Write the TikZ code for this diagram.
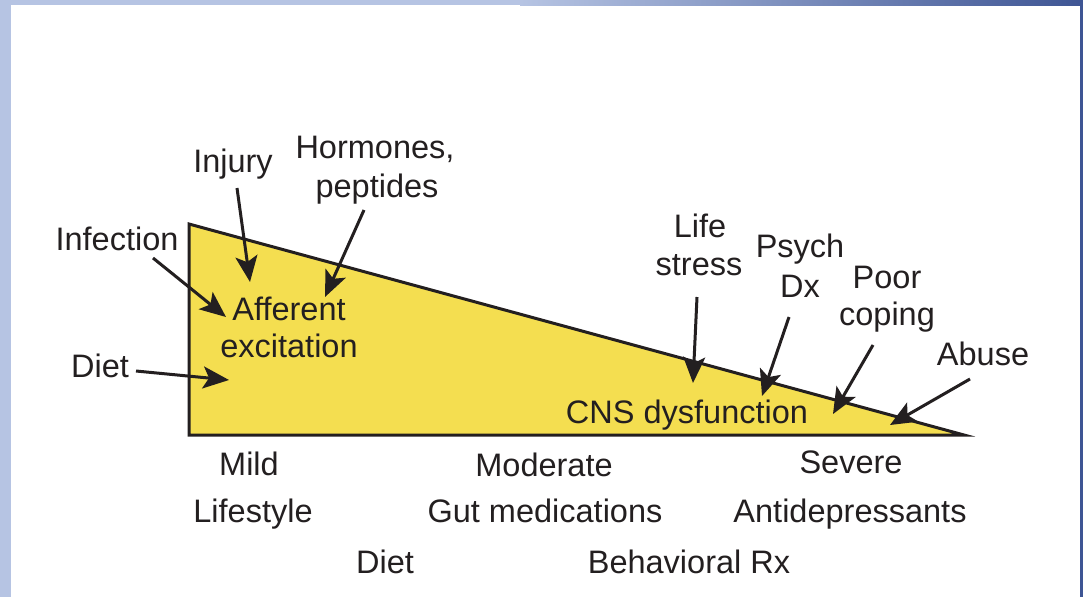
\documentclass[tikz,border=0pt]{standalone}
\usepackage{fontspec}
\setmainfont{Liberation Sans}
\usetikzlibrary{arrows.meta}
\definecolor{lightblue}{RGB}{182,196,227}
\definecolor{darkblue}{RGB}{62,85,148}
\definecolor{tri}{RGB}{244,222,80}
\definecolor{ink}{RGB}{35,31,32}
\tikzset{
  lbl/.style={inner sep=0pt, anchor=base, text=ink, align=center, font=\fontsize{32.5}{38}\selectfont},
  arr/.style={draw=ink, line width=3pt, -{Stealth[length=26pt,width=22pt,inset=6pt]}},
}
\begin{document}
\begin{tikzpicture}[x=1pt,y=-1pt]
\useasboundingbox (0,0) rectangle (1083,597);
% frame
\fill[lightblue] (0,0) rectangle (11,597);
\fill[lightblue] (0,0) rectangle (521,5);
\shade[left color=lightblue, right color=darkblue] (520,0) rectangle (1083,5);
\fill[darkblue] (1080,0) rectangle (1083,597);
% triangle
\coordinate (tl) at (189,224);
\coordinate (bl) at (189,435);
\coordinate (br) at (964,435);
\filldraw[fill=tri, draw=ink, line width=3pt, line join=miter] (tl) -- (bl) -- (br) -- cycle;
% inner labels
\node[lbl] (aff) at (289,320) {Afferent};
\node[lbl] (exc) at (289,357) {excitation};
\node[lbl] (cns) at (687,423) {CNS dysfunction};
% outer labels
\node[lbl] (injury) at (233,172) {Injury};
\node[lbl] (horm) at (375,158) {Hormones,};
\node[lbl] (pept) at (377,197) {peptides};
\node[lbl] (infect) at (117,250) {Infection};
\node[lbl] (diet) at (100,377) {Diet};
\node[lbl] (life) at (700,237) {Life};
\node[lbl] (stress) at (699,275) {stress};
\node[lbl] (psych) at (800,257) {Psych};
\node[lbl] (dx) at (800,297) {Dx};
\node[lbl] (poor) at (887,288) {Poor};
\node[lbl] (coping) at (887,325) {coping};
\node[lbl] (abuse) at (983,365) {Abuse};
% bottom labels
\node[lbl] (mild) at (249,475) {Mild};
\node[lbl] (lifestyle) at (253,522) {Lifestyle};
\node[lbl] (diet2) at (385,573) {Diet};
\node[lbl] (moderate) at (544,476) {Moderate};
\node[lbl] (gut) at (545,522) {Gut medications};
\node[lbl] (behav) at (689,573) {Behavioral Rx};
\node[lbl] (severe) at (851,473) {Severe};
\node[lbl] (anti) at (850,522) {Antidepressants};
% arrow ends
\coordinate (s1) at (237,188); \coordinate (t1) at (250,282);
\coordinate (s2) at (364,210); \coordinate (t2) at (325,297);
\coordinate (s3) at (153,258); \coordinate (t3) at (226,317);
\coordinate (s4) at (136,371); \coordinate (t4) at (229,380);
\coordinate (s5) at (697,297); \coordinate (t5) at (693,383);
\coordinate (s6) at (789,317); \coordinate (t6) at (762,396);
\coordinate (s7) at (873,345); \coordinate (t7) at (833,414);
\coordinate (s8) at (970,379); \coordinate (t8) at (890,425);
\draw[arr] (s1) -- (t1);
\draw[arr] (s2) -- (t2);
\draw[arr] (s3) -- (t3);
\draw[arr] (s4) -- (t4);
\draw[arr] (s5) -- (t5);
\draw[arr] (s6) -- (t6);
\draw[arr] (s7) -- (t7);
\draw[arr] (s8) -- (t8);
\end{tikzpicture}
\end{document}
